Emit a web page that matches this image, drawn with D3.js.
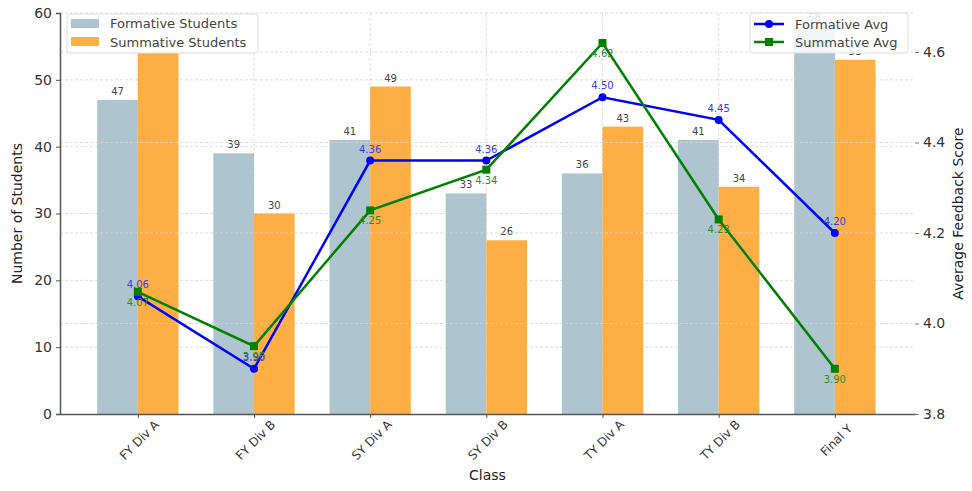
<!DOCTYPE html>
<html><head><meta charset="utf-8">
<script src="https://cdn.jsdelivr.net/npm/d3@7"></script>
<style>body{margin:0;background:#fff}svg{display:block;font-family:"DejaVu Sans",sans-serif}</style>
</head><body><svg id="c" width="972" height="491"></svg>
<script>
const categories = ["FY Div A","FY Div B","SY Div A","SY Div B","TY Div A","TY Div B","Final Y"];
const formativeStudents = [47,39,41,33,36,41,58];
const summativeStudents = [54,30,49,26,43,34,53];
const formativeAvg = [4.06,3.90,4.36,4.36,4.50,4.45,4.20];
const summativeAvg = [4.07,3.95,4.25,4.34,4.62,4.23,3.90];
const leftTicks = [0,10,20,30,40,50,60];
const rightTicks = [3.8,4.0,4.2,4.4,4.6];

const svg = d3.select("#c");
const L=60,R=915,T=13,B=414;
const x = d3.scaleLinear().domain([-0.67,6.69]).range([L,R]);
const yL = d3.scaleLinear().domain([0,60]).range([B,T]);
const yR = d3.scaleLinear().domain([3.8,4.6862]).range([B,T]);
const bw = x(0.35)-x(0);
const gridC="#d4d4d4";

// left grid (under bars)
const g = svg.append("g");
leftTicks.filter(v=>v>0).forEach(v=>g.append("line").attr("x1",L).attr("x2",R).attr("y1",yL(v)).attr("y2",yL(v)).attr("stroke",gridC).attr("stroke-dasharray","3,2").attr("stroke-width",0.8));
categories.forEach((c,i)=>g.append("line").attr("x1",x(i)).attr("x2",x(i)).attr("y1",T).attr("y2",B).attr("stroke",gridC).attr("stroke-dasharray","3,2").attr("stroke-width",0.8));

// bars
const bars = svg.append("g");
categories.forEach((c,i)=>{
  bars.append("rect").attr("x",x(i)-bw).attr("width",bw).attr("y",yL(formativeStudents[i])).attr("height",B-yL(formativeStudents[i])).attr("fill","#aec4ce");
  bars.append("rect").attr("x",x(i)).attr("width",bw).attr("y",yL(summativeStudents[i])).attr("height",B-yL(summativeStudents[i])).attr("fill","#fdaf45");
  bars.append("text").attr("x",x(i)-bw/2).attr("y",yL(formativeStudents[i])-5).attr("text-anchor","middle").attr("font-size",10).attr("fill","#444").text(formativeStudents[i]);
  bars.append("text").attr("x",x(i)+bw/2).attr("y",yL(summativeStudents[i])-5).attr("text-anchor","middle").attr("font-size",10).attr("fill","#444").text(summativeStudents[i]);
});

// right grid (over bars)
const g2 = svg.append("g");
rightTicks.filter(v=>v>3.8).forEach(v=>g2.append("line").attr("x1",L).attr("x2",R).attr("y1",yR(v)).attr("y2",yR(v)).attr("stroke",gridC).attr("stroke-dasharray","3,2").attr("stroke-width",0.8));

// axes
const axL = svg.append("g").attr("transform",`translate(${L},0)`).call(d3.axisLeft(yL).tickValues(leftTicks).tickSize(4).tickPadding(4));
axL.select(".domain").attr("stroke","#555").attr("stroke-width",1.5);
axL.selectAll(".tick line").attr("stroke","#555");
axL.selectAll("text").attr("font-size",14).attr("fill","#333").attr("font-family","DejaVu Sans");
const axR = svg.append("g").attr("transform",`translate(${R},0)`).call(d3.axisRight(yR).tickValues(rightTicks).tickFormat(d3.format(".1f")).tickSize(4).tickPadding(4));
axR.select(".domain").remove();
axR.selectAll(".tick line").attr("stroke","#777");
axR.selectAll("text").attr("font-size",14).attr("fill","#333").attr("font-family","DejaVu Sans");
const axB = svg.append("g").attr("transform",`translate(0,${B})`).call(d3.axisBottom(x).tickValues(d3.range(categories.length)).tickFormat(i=>categories[i]).tickSize(4).tickSizeOuter(0));
axB.select(".domain").attr("stroke","#555").attr("stroke-width",1.5);
axB.selectAll(".tick line").attr("stroke","#555");
axB.selectAll("text").attr("font-size",12).attr("fill","#333").attr("font-family","DejaVu Sans")
  .attr("text-anchor","middle").attr("y",null).attr("dy","0.35em").attr("transform","translate(1,26) rotate(-45)");

// axis labels
svg.append("text").attr("transform",`translate(22,${(T+B)/2}) rotate(-90)`).attr("text-anchor","middle").attr("font-size",14).attr("fill","#222").text("Number of Students");
svg.append("text").attr("transform",`translate(963,${(T+B)/2}) rotate(-90)`).attr("text-anchor","middle").attr("font-size",14).attr("fill","#222").text("Average Feedback Score");
svg.append("text").attr("x",(L+R)/2).attr("y",480).attr("text-anchor","middle").attr("font-size",14).attr("fill","#222").text("Class");

// lines
function series(vals,color,shape){
  const gg = svg.append("g");
  gg.append("path").datum(vals).attr("d",d3.line().x((d,i)=>x(i)).y(d=>yR(d))).attr("fill","none").attr("stroke",color).attr("stroke-width",2.5);
  vals.forEach((v,i)=>{
    if(shape==="circle") gg.append("circle").attr("cx",x(i)).attr("cy",yR(v)).attr("r",4).attr("fill",color);
    else gg.append("rect").attr("x",x(i)-4).attr("y",yR(v)-4).attr("width",8).attr("height",8).attr("fill",color);
  });
  return gg;
}
series(formativeAvg,"#0000ff","circle");
series(summativeAvg,"#008000","square");
formativeAvg.forEach((v,i)=>svg.append("text").attr("x",x(i)).attr("y",yR(v)-8).attr("text-anchor","middle").attr("font-size",10).attr("fill","#3a3af0").text(v.toFixed(2)));
summativeAvg.forEach((v,i)=>svg.append("text").attr("x",x(i)).attr("y",yR(v)+14).attr("text-anchor","middle").attr("font-size",10).attr("fill","#2e8b2e").text(v.toFixed(2)));

// legends
const lg1 = svg.append("g");
lg1.append("rect").attr("x",67).attr("y",14).attr("width",191).attr("height",39).attr("rx",3).attr("fill","rgba(255,255,255,0.85)").attr("stroke","#ddd");
lg1.append("rect").attr("x",71).attr("y",19).attr("width",28).attr("height",9).attr("fill","#aec4ce");
lg1.append("rect").attr("x",71).attr("y",37).attr("width",28).attr("height",9).attr("fill","#fdaf45");
lg1.append("text").attr("x",110).attr("y",28).attr("font-size",13).attr("fill","#444").text("Formative Students");
lg1.append("text").attr("x",110).attr("y",47).attr("font-size",13).attr("fill","#444").text("Summative Students");
const lg2 = svg.append("g");
lg2.append("rect").attr("x",750).attr("y",13).attr("width",158).attr("height",40).attr("rx",3).attr("fill","rgba(255,255,255,0.85)").attr("stroke","#ddd");
lg2.append("line").attr("x1",754).attr("x2",784).attr("y1",24).attr("y2",24).attr("stroke","#0000ff").attr("stroke-width",2.5);
lg2.append("circle").attr("cx",769).attr("cy",24).attr("r",4).attr("fill","#0000ff");
lg2.append("line").attr("x1",754).attr("x2",784).attr("y1",42).attr("y2",42).attr("stroke","#008000").attr("stroke-width",2.5);
lg2.append("rect").attr("x",765).attr("y",38).attr("width",8).attr("height",8).attr("fill","#008000");
lg2.append("text").attr("x",795).attr("y",29).attr("font-size",13).attr("fill","#444").text("Formative Avg");
lg2.append("text").attr("x",795).attr("y",47).attr("font-size",13).attr("fill","#444").text("Summative Avg");
</script></body></html>
